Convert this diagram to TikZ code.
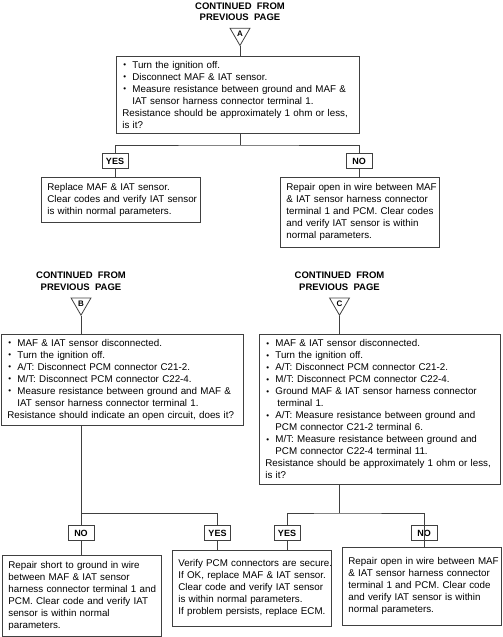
\documentclass[tikz,border=0pt]{standalone}
\usepackage{fontspec}
\setmainfont{Liberation Sans}
\usetikzlibrary{shapes.geometric}
\newcommand{\bul}{\makebox[10pt][l]{\hspace{1pt}\raisebox{0.6pt}{\fontsize{8}{8}\selectfont\textbullet}}}
\newcommand{\bulgap}{\hspace*{10pt}}
\begin{document}
\begin{tikzpicture}[x=1pt, y=-1pt,
    stepbox/.style={draw=black!75, line width=0.8pt, anchor=north west, inner xsep=6pt, inner ysep=2pt,
        font=\fontsize{9.8}{12}\selectfont,
        execute at begin node={\rightskip=0pt minus 12pt\relax\hyphenpenalty=10000\relax}},
    answer/.style={draw=black!75, line width=0.8pt, minimum width=26pt, minimum height=15.5pt, inner sep=0pt, font=\bfseries\fontsize{9}{10}\selectfont},
    marker/.style={draw=black!75, line width=0.8pt, regular polygon, regular polygon sides=3, shape border rotate=180, minimum size=23pt, inner sep=0pt, font=\bfseries\fontsize{8}{8}\selectfont},
    heading/.style={align=center, inner sep=0pt, font=\bfseries\fontsize{9.5}{11.3}\selectfont},
    link/.style={draw=black!75, line width=0.8pt}]
    \useasboundingbox (0,0) rectangle (503,637);
    \node[heading] (headA) at (240,11.5) {CONTINUED\ \ FROM\\PREVIOUS\ \ PAGE};
    \node[marker] (triA) at (240,34) {A};
    \node[stepbox, text width=231pt, minimum height=77pt] (q1) at (116,56)
        {\bul Turn the ignition off.\\
         \bul Disconnect MAF \& IAT sensor.\\
         \bul Measure resistance between ground and MAF \&\\
         \bulgap IAT sensor harness connector terminal 1.\\
         Resistance should be approximately 1 ohm or less,\\
         is it?};
    \coordinate (jA) at (240,145);
    \node[answer] (yes1) at (115,161) {YES};
    \node[answer] (no1) at (359,161) {NO};
    \node[stepbox, text width=147pt, minimum height=45pt] (r1) at (41,177)
        {Replace MAF \& IAT sensor.\\
         Clear codes and verify IAT sensor\\
         is within normal parameters.};
    \node[stepbox, text width=147pt, minimum height=70pt] (r2) at (280,177)
        {Repair open in wire between MAF\\
         \& IAT sensor harness connector\\
         terminal 1 and PCM. Clear codes\\
         and verify IAT sensor is within\\
         normal parameters.};

    \node[heading] (headB) at (81,281.3) {CONTINUED\ \ FROM\\PREVIOUS\ \ PAGE};
    \node[marker] (triB) at (81,303.7) {B};
    \node[stepbox, text width=230pt, minimum height=91pt] (qB) at (1,334)
        {\bul MAF \& IAT sensor disconnected.\\
         \bul Turn the ignition off.\\
         \bul A/T: Disconnect PCM connector C21-2.\\
         \bul M/T: Disconnect PCM connector C22-4.\\
         \bul Measure resistance between ground and MAF \&\\
         \bulgap IAT sensor harness connector terminal 1.\\
         Resistance should indicate an open circuit, does it?};
    \coordinate (jB) at (81,513);
    \node[answer] (noB) at (81,533) {NO};
    \node[answer] (yesB) at (217.5,533) {YES};

    \node[heading] (headC) at (339.5,281.3) {CONTINUED\ \ FROM\\PREVIOUS\ \ PAGE};
    \node[marker] (triC) at (339.5,303.7) {C};
    \node[stepbox, text width=229pt, minimum height=150pt] (qC) at (259,334)
        {\bul MAF \& IAT sensor disconnected.\\
         \bul Turn the ignition off.\\
         \bul A/T: Disconnect PCM connector C21-2.\\
         \bul M/T: Disconnect PCM connector C22-4.\\
         \bul Ground MAF \& IAT sensor harness connector\\
         \bulgap\hspace*{2pt}terminal 1.\\
         \bul A/T: Measure resistance between ground and\\
         \bulgap PCM connector C21-2 terminal 6.\\
         \bul M/T: Measure resistance between ground and\\
         \bulgap PCM connector C22-4 terminal 11.\\
         Resistance should be approximately 1 ohm or less,\\
         is it?};
    \coordinate (jC) at (339.5,513);
    \node[answer] (yesC) at (287,533) {YES};
    \node[answer] (noC) at (424,533) {NO};

    \node[stepbox, text width=147pt, minimum height=81pt] (r3) at (2,555)
        {Repair short to ground in wire\\
         between MAF \& IAT sensor\\
         harness connector terminal 1 and\\
         PCM. Clear code and verify IAT\\
         sensor is within normal\\
         parameters.};
    \node[stepbox, text width=147pt, minimum height=76pt] (r4) at (172,550)
        {Verify PCM connectors are secure.\\
         If OK, replace MAF \& IAT sensor.\\
         Clear code and verify IAT sensor\\
         is within normal parameters.\\
         If problem persists, replace ECM.};
    \node[stepbox, text width=147pt, minimum height=78pt] (r5) at (342,547)
        {Repair open in wire between MAF\\
         \& IAT sensor harness connector\\
         terminal 1 and PCM. Clear code\\
         and verify IAT sensor is within\\
         normal parameters.};

    \draw[link] (triA.south) -- (triA.south |- q1.north);
    \draw[link] (jA |- q1.south) -- (jA);
    \draw[link] (yes1.north) |- (jA) -| (no1.north);
    \draw[link] (yes1.south) -- (yes1.south |- r1.north);
    \draw[link] (no1.south) -- (no1.south |- r2.north);

    \draw[link] (triB.south) -- (triB.south |- qB.north);
    \draw[link] (jB |- qB.south) -- (noB.north);
    \draw[link] (jB) -| (yesB.north);
    \draw[link] (noB.south) -- (noB.south |- r3.north);
    \draw[link] (yesB.south) -- (yesB.south |- r4.north);

    \draw[link] (triC.south) -- (triC.south |- qC.north);
    \draw[link] (jC |- qC.south) -- (jC);
    \draw[link] (yesC.north) |- (jC) -| (noC.north);
    \draw[link] (yesC.south) -- (yesC.south |- r4.north);
    \draw[link] (noC.north) -- (noC.north |- r5.north);
\end{tikzpicture}
\end{document}
